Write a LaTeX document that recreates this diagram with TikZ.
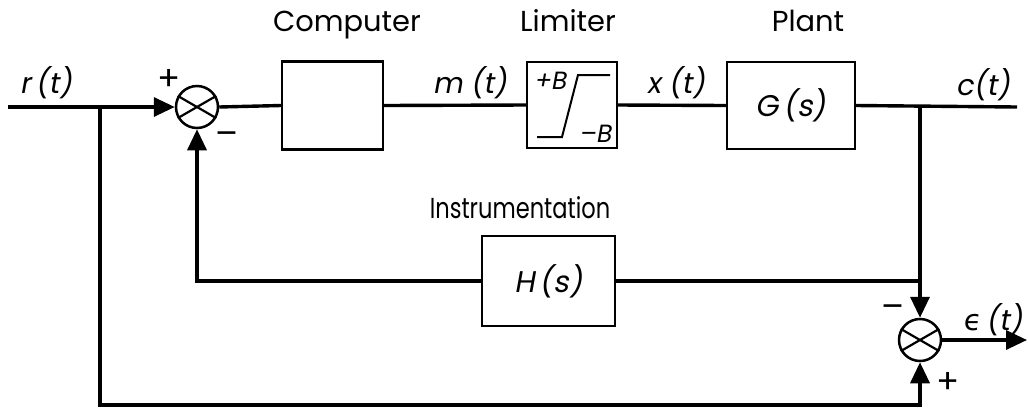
\documentclass[tikz,border=0pt]{standalone}
\usepackage{fontspec}
\setmainfont{Poppins}
\newfontfamily\mth[FakeSlant=0.18]{Poppins}
\newfontfamily\narrowfont[FakeStretch=0.78]{Poppins}
\newfontfamily\grk[FakeSlant=0.1]{DejaVu Sans}
\usetikzlibrary{arrows.meta}
\tikzset{
  blk/.style={draw, line width=2.2bp, inner sep=0pt},
  sumj/.style={circle, draw, line width=2.5bp, minimum size=42bp, inner sep=0pt},
  sig/.style={line width=3.4bp},
  arr/.style={-{Triangle[length=21bp,width=19bp]}},
  ttl/.style={font=\fontsize{29}{32}\selectfont, anchor=base, inner sep=0pt},
  var/.style={font=\fontsize{29}{32}\selectfont\mth, anchor=base, inner sep=0pt},
  pm/.style={font=\fontsize{34}{36}\selectfont, inner sep=0pt},
}
\newcommand{\sumcross}[1]{%
  \draw[line width=2.2bp] (#1.150) -- (#1.-30);
  \draw[line width=2.2bp] (#1.30) -- (#1.210);
}
\begin{document}
\begin{tikzpicture}[x=1bp,y=-1bp]
\useasboundingbox (0,0) rectangle (1028,412);

% blocks
\node[blk, minimum width=101bp, minimum height=88bp] (comp) at (332.5,105.5) {};
\node[blk, minimum width=90bp, minimum height=86bp] (lim) at (572,105) {};
\node[blk, minimum width=128bp, minimum height=87bp, font=\fontsize{30}{32}\selectfont\mth] (plant) at (791,105.5) {G\,(s)};
\node[blk, minimum width=133bp, minimum height=90bp, font=\fontsize{30}{32}\selectfont\mth] (hbox) at (548.5,281) {H\,(s)};

% summing junctions
\node[sumj] (s1) at (197,107) {};
\node[sumj] (s2) at (920,340) {};
\sumcross{s1}
\sumcross{s2}

% limiter characteristic
\coordinate (l1) at (537,137);
\coordinate (l2) at (562,137);
\coordinate (l3) at (578,75);
\coordinate (l4) at (610,75);
\draw[line width=2bp] (l1) -- (l2) -- (l3) -- (l4);
\node[font=\fontsize{25}{26}\selectfont\mth, inner sep=0pt] (lp) at (550,81) {+B};
\node[font=\fontsize{25}{26}\selectfont\mth, inner sep=0pt] (lm) at (595,134) {–B};

% free ends and branch points
\coordinate (rin) at (8,107);
\coordinate (rb) at (100,107);
\coordinate (bl) at (100,405);
\coordinate (cb) at (920,107);
\coordinate (cout) at (1017,107);
\coordinate (hb) at (920,281);
\coordinate (eout) at (1027,340);

% forward path
\draw[sig, arr] (rin) -- (s1.west);
\draw[sig] (s1.east) -- (comp.west);
\draw[sig] (comp.east) -- (lim.west);
\draw[sig] (lim.east) -- (plant.west);
\draw[sig] (plant.east) -- (cout);

% instrumentation feedback
\draw[sig, arr] (cb) -- (s2.north);
\draw[sig] (hb) -- (hbox.east);
\draw[sig, arr] (hbox.west) -| (s1.south);

% reference to error junction
\draw[sig, arr] (rb) -- (bl) -| (s2.south);
\draw[sig, arr] (s2.east) -- (eout);

% titles
\node[ttl] (tcomp) at (347,31) {Computer};
\node[ttl] (tlim) at (568,31) {Limiter};
\node[ttl] (tplant) at (808,31) {Plant};
\node[ttl, font=\fontsize{29}{32}\selectfont\narrowfont] (tinst) at (520,218) {Instrumentation};

% signal names
\node[var] (vr) at (46,93) {r\,(t)};
\node[var] (vm) at (470,93) {m (t)};
\node[var] (vx) at (676,93) {x (t)};
\node[var] (vc) at (983,95) {c(t)};
\node[var] (ve) at (993,330) {{\grk ϵ}\,(t)};

% signs
\node[pm] (p1) at (169,80) {+};
\node[pm] (m1) at (227,139) {–};
\node[pm] (m2) at (893,312) {–};
\node[pm] (p2) at (948,383) {+};
\end{tikzpicture}
\end{document}
